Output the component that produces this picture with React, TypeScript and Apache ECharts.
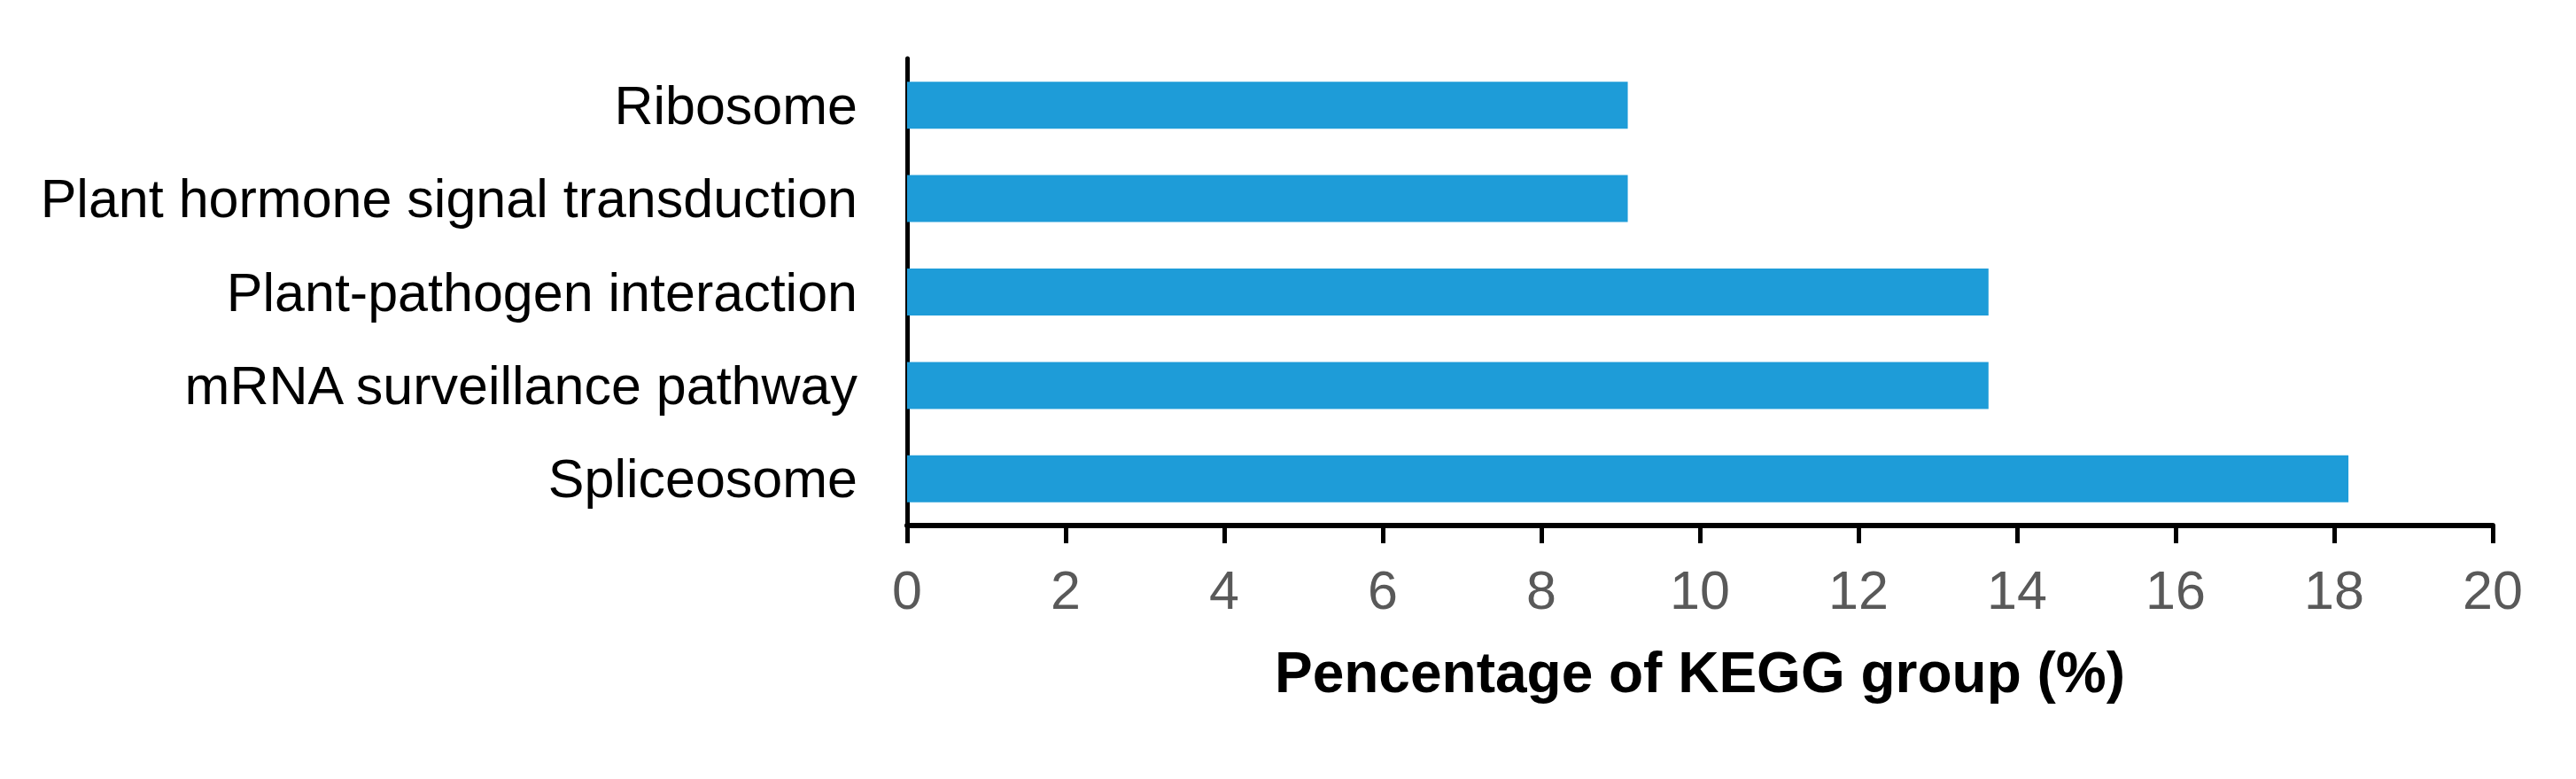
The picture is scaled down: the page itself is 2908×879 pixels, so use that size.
import React, { useEffect, useRef } from "react";
import * as echarts from "echarts";

const categories = [
  "Spliceosome",
  "mRNA surveillance pathway",
  "Plant-pathogen interaction",
  "Plant hormone signal transduction",
  "Ribosome",
];
const percentages = [18.18, 13.64, 13.64, 9.09, 9.09];
const axisTitle = "Pencentage of KEGG group (%)";
const xMin = 0;
const xMax = 20;
const xInterval = 2;

const FONT = "'Liberation Sans', Arial, Helvetica, sans-serif";

export default function App() {
  const ref = useRef<HTMLDivElement>(null);

  useEffect(() => {
    if (!ref.current) return;
    const chart = echarts.init(ref.current, null, { renderer: "svg" });
    chart.setOption({
      animation: false,
      backgroundColor: "#ffffff",
      grid: { left: 1024, right: 94, top: 66, bottom: 286, containLabel: false },
      xAxis: {
        type: "value",
        min: xMin,
        max: xMax,
        interval: xInterval,
        splitLine: { show: false },
        axisLine: { show: true, lineStyle: { color: "#000000", width: 6 } },
        axisTick: { show: true, length: 20, lineStyle: { color: "#000000", width: 5 } },
        axisLabel: {
          margin: 42,
          color: "#595959",
          fontSize: 61,
          fontFamily: FONT,
        },
        name: axisTitle,
        nameLocation: "middle",
        nameGap: 134,
        nameTextStyle: {
          color: "#000000",
          fontSize: 64,
          fontWeight: "bold",
          fontFamily: FONT,
        },
      },
      yAxis: {
        type: "category",
        data: categories,
        axisLine: { show: true, lineStyle: { color: "#000000", width: 5 } },
        axisTick: { show: false },
        axisLabel: {
          margin: 56,
          color: "#000000",
          fontSize: 61,
          fontFamily: FONT,
        },
        splitLine: { show: false },
      },
      series: [
        {
          type: "bar",
          data: percentages,
          barWidth: 53,
          itemStyle: { color: "#1E9CD8" },
        },
      ],
    });
    return () => chart.dispose();
  }, []);

  return (
    <div
      ref={ref}
      style={{ position: "fixed", left: 0, top: 0, width: 2908, height: 879 }}
    />
  );
}
